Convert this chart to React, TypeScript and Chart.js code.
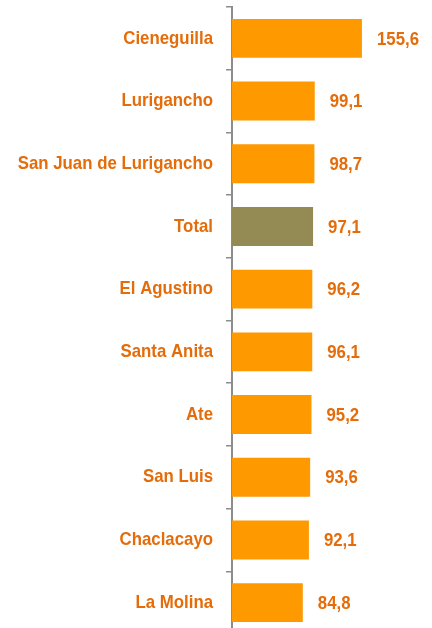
import React, { useEffect, useRef } from "react";
import { Chart, registerables } from "chart.js";

Chart.register(...registerables);

const categories = [
  "Cieneguilla",
  "Lurigancho",
  "San Juan de Lurigancho",
  "Total",
  "El Agustino",
  "Santa Anita",
  "Ate",
  "San Luis",
  "Chaclacayo",
  "La Molina",
];
const values = [155.6, 99.1, 98.7, 97.1, 96.2, 96.1, 95.2, 93.6, 92.1, 84.8];
const barColors = categories.map((c) => (c === "Total" ? "#948A54" : "#FF9900"));

const TEXT = "#E46C0A";
const FONT = "'Liberation Sans', Arial, sans-serif";
const SQUEEZE = 0.885;

function drawCondensed(ctx: any, txt: string, x: number, y: number, align: "left" | "right") {
  ctx.save();
  ctx.translate(x, y);
  ctx.scale(SQUEEZE, 1);
  ctx.textAlign = align;
  ctx.fillText(txt, 0, 0);
  ctx.restore();
}

const textPlugin = {
  id: "textPlugin",
  afterDatasetsDraw(chart: any) {
    const ctx = chart.ctx;
    const meta = chart.getDatasetMeta(0);
    const yScale = chart.scales.y;
    ctx.save();
    ctx.fillStyle = TEXT;
    ctx.font = `bold 19px ${FONT}`;
    ctx.textBaseline = "middle";
    categories.forEach((c, i) => {
      const y = yScale.getPixelForTick(i);
      drawCondensed(ctx, c, yScale.right - 19, y, "right");
    });
    meta.data.forEach((bar: any, i: number) => {
      const txt = values[i].toFixed(1).replace(".", ",");
      drawCondensed(ctx, txt, bar.x + 15, bar.y + 1, "left");
    });
    ctx.restore();
  },
};

export default function App() {
  const ref = useRef<HTMLCanvasElement>(null);
  useEffect(() => {
    const chart = new Chart(ref.current!, {
      type: "bar",
      data: {
        labels: categories,
        datasets: [
          {
            data: values,
            backgroundColor: barColors,
            borderWidth: 0,
            categoryPercentage: 1,
            barPercentage: 0.62,
          },
        ],
      },
      options: {
        indexAxis: "y",
        animation: false,
        responsive: false,
        layout: { padding: { top: 7, bottom: 2, right: 33, left: 0 } },
        plugins: { legend: { display: false }, tooltip: { enabled: false } },
        scales: {
          x: { display: false, min: 0, max: 200 },
          y: {
            afterFit(scale: any) {
              scale.width = 232;
              scale.paddingTop = 0;
              scale.paddingBottom = 0;
            },
            grid: {
              offset: true,
              drawOnChartArea: false,
              tickLength: 6,
              color: "#8C8C8C",
              lineWidth: 1.5,
            },
            border: { color: "#8C8C8C", width: 2 },
            ticks: {
              display: false,
            },
          },
        },
      },
      plugins: [textPlugin],
    });
    return () => chart.destroy();
  }, []);
  return (
    <div
      style={{
        position: "fixed",
        left: 0,
        top: 0,
        width: 432,
        height: 628,
        overflow: "hidden",
        background: "#fff",
      }}
    >
      <canvas ref={ref} width={432} height={636} style={{ display: "block" }} />
    </div>
  );
}
